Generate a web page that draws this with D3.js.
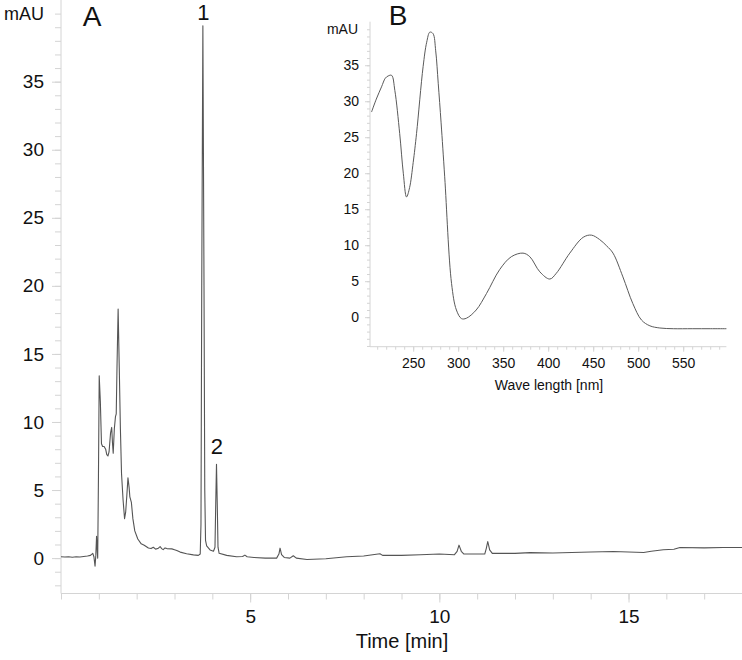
<!DOCTYPE html>
<html>
<head>
<meta charset="utf-8">
<script src="https://cdn.jsdelivr.net/npm/d3@7"></script>
<style>
  html, body { margin: 0; padding: 0; background: #fff; }
  svg { display: block; font-family: "Liberation Sans", Arial, sans-serif; }
  .axis path, .axis line { stroke: #d4d4d4; }
  .axis text { fill: #111; }
</style>
</head>
<body>
<svg id="chart" width="742" height="660"></svg>
<script>
// ---- Panel A: chromatogram (time [min], absorbance [mAU]) ----
const timeMin = [0, 0.1, 0.2, 0.3, 0.4, 0.5, 0.6, 0.7, 0.78, 0.84, 0.87, 0.9, 0.92, 0.94, 0.96, 0.97, 0.99, 1.01, 1.04, 1.07, 1.1, 1.14, 1.18, 1.21, 1.24, 1.27, 1.31, 1.34, 1.36, 1.38, 1.41, 1.44, 1.46, 1.48, 1.51, 1.54, 1.57, 1.60, 1.64, 1.68, 1.71, 1.74, 1.77, 1.80, 1.82, 1.86, 1.90, 1.95, 2.03, 2.12, 2.2, 2.31, 2.38, 2.44, 2.5, 2.56, 2.62, 2.66, 2.70, 2.75, 2.8, 2.93, 3.0, 3.06, 3.15, 3.32, 3.5, 3.63, 3.68, 3.70, 3.72, 3.75, 3.78, 3.80, 3.82, 3.85, 3.94, 4.03, 4.07, 4.09, 4.11, 4.13, 4.15, 4.18, 4.38, 4.64, 4.8, 4.86, 4.92, 5.1, 5.4, 5.7, 5.76, 5.79, 5.83, 5.9, 6.05, 6.14, 6.22, 6.5, 7.0, 7.55, 8.0, 8.43, 8.5, 9.0, 9.5, 10.0, 10.4, 10.47, 10.52, 10.58, 10.65, 11.0, 11.2, 11.24, 11.28, 11.33, 11.4, 12.0, 12.4, 13.0, 14.0, 14.6, 15.0, 15.4, 15.6, 15.92, 16.2, 16.36, 17.0, 17.5, 18.0];
const absorbance = [0.1, 0.08, 0.1, 0.06, 0.1, 0.08, 0.12, 0.15, 0.2, 0.35, 0.1, -0.6, 0.2, 1.6, 0.4, 0.0, 6, 13.4, 11.5, 8.4, 8.2, 8.2, 8.0, 7.6, 7.5, 7.8, 9.2, 9.6, 8.5, 7.7, 9.5, 10.4, 10.6, 14, 18.3, 14, 9.5, 6.2, 4.3, 2.9, 3.4, 4.6, 5.9, 5.2, 4.5, 4.1, 2.9, 2.0, 1.4, 1.05, 0.95, 0.74, 0.7, 0.8, 0.66, 0.7, 0.85, 0.7, 0.62, 0.75, 0.7, 0.68, 0.62, 0.56, 0.44, 0.32, 0.24, 0.2, 0.3, 2.5, 20, 39.1, 20, 5, 1.3, 0.9, 0.6, 0.5, 0.8, 4, 6.9, 4, 0.8, 0.35, 0.2, 0.1, 0.12, 0.22, 0.1, 0.05, 0.0, 0.0, 0.3, 0.73, 0.25, 0.05, 0.0, 0.17, 0.0, -0.1, -0.05, 0.1, 0.15, 0.32, 0.2, 0.2, 0.25, 0.3, 0.25, 0.5, 0.95, 0.5, 0.3, 0.3, 0.3, 0.7, 1.22, 0.6, 0.35, 0.35, 0.4, 0.38, 0.45, 0.49, 0.45, 0.41, 0.5, 0.61, 0.65, 0.78, 0.75, 0.78, 0.78];
const timeTicksMajor = [5, 10, 15];
const mauTicksMajor = [0, 5, 10, 15, 20, 25, 30, 35];
const peakLabels = ["1", "2"];
const peakTimes = [3.75, 4.11];
const peakHeights = [39.1, 6.9];

// ---- Panel B: UV-Vis spectrum (wavelength [nm], absorbance [mAU]) ----
const waveNm = [203.7, 209, 214.8, 219, 222, 226, 229.6, 235, 239, 242.6, 246, 250, 253.7, 261, 265, 268.5, 272, 275, 277.8, 281, 285, 292.6, 298, 303.7, 309, 320, 331.5, 346, 359, 372, 379.6, 390.7, 401.8, 409, 424, 438.9, 448, 457, 465, 472, 483, 494, 503.7, 513, 524, 539, 560, 580, 598];
const spectrumMau = [28.5, 30.3, 32, 33.2, 33.5, 33.6, 31.5, 25.5, 20, 16.7, 18, 21.5, 25.5, 34.8, 38.2, 39.6, 39.4, 37, 32.5, 27, 19.5, 4.7, 1, -0.2, -0.15, 1, 3.3, 6.6, 8.4, 8.9, 8.4, 6.3, 5.3, 6.1, 8.9, 11.1, 11.4, 10.8, 9.9, 8.9, 5.6, 1.9, -0.4, -1.2, -1.5, -1.6, -1.6, -1.6, -1.6];
const waveTicksMajor = [250, 300, 350, 400, 450, 500, 550];
const specTicksMajor = [0, 5, 10, 15, 20, 25, 30, 35];

const svg = d3.select("#chart");

// ================= Panel A =================
const xA = d3.scaleLinear().domain([0, 18]).range([61, 742]);
const yA = d3.scaleLinear().domain([-2.6, 41]).range([593.5, 0]);

svg.append("g").attr("class", "axis").attr("transform", "translate(61,0)")
  .call(d3.axisLeft(yA).tickValues(d3.range(-2, 41, 1)).tickSize(6).tickFormat(""))
  .call(g => g.select(".domain").remove());
svg.append("g").attr("class", "axis").attr("transform", "translate(61,0)")
  .call(d3.axisLeft(yA).tickValues(mauTicksMajor).tickSize(9).tickPadding(8).tickFormat(d3.format("d")))
  .call(g => g.selectAll("text").attr("font-size", 19))
  .call(g => g.select(".domain").attr("d", "M0,0V593.5"));
svg.append("text").attr("x", 44).attr("y", yA(40)).attr("dy", "0.36em")
  .attr("text-anchor", "end").attr("font-size", 18).attr("fill", "#111").text("mAU");

svg.append("g").attr("class", "axis").attr("transform", "translate(0,593.5)")
  .call(d3.axisBottom(xA).tickValues(d3.range(0, 19, 1)).tickSize(6).tickFormat(""))
  .call(g => g.select(".domain").remove());
svg.append("g").attr("class", "axis").attr("transform", "translate(0,593.5)")
  .call(d3.axisBottom(xA).tickValues(timeTicksMajor).tickSize(9).tickPadding(7).tickFormat(d3.format("d")))
  .call(g => g.selectAll("text").attr("font-size", 19))
  .call(g => g.select(".domain").attr("d", "M61,0H742"));
svg.append("text").attr("x", 402).attr("y", 648).attr("text-anchor", "middle")
  .attr("font-size", 20).attr("fill", "#111").text("Time [min]");

const chromData = timeMin.map((t, i) => [t, absorbance[i]]);
svg.append("path").datum(chromData)
  .attr("fill", "none").attr("stroke", "#555").attr("stroke-width", 1.1)
  .attr("stroke-linejoin", "round")
  .attr("d", d3.line().x(d => xA(d[0])).y(d => yA(d[1])));

svg.append("text").attr("x", 92).attr("y", 26).attr("text-anchor", "middle")
  .attr("font-size", 28).attr("fill", "#111").text("A");
svg.selectAll(".peaklbl").data(peakLabels).enter().append("text")
  .attr("class", "peaklbl")
  .attr("x", (d, i) => xA(peakTimes[i]) + 0.5)
  .attr("y", (d, i) => i === 0 ? 20 : yA(peakHeights[i]) - 10)
  .attr("text-anchor", "middle").attr("font-size", 22).attr("fill", "#111").text(d => d);

// ================= Panel B (inset) =================
const xB = d3.scaleLinear().domain([202, 598]).range([370, 726.4]);
const yB = d3.scaleLinear().domain([-4.1, 41.05]).range([346.7, 21.7]);

svg.append("g").attr("class", "axis").attr("transform", "translate(370,0)")
  .call(d3.axisLeft(yB).tickValues(d3.range(-4, 41, 1)).tickSize(3).tickFormat(""))
  .call(g => g.select(".domain").remove());
svg.append("g").attr("class", "axis").attr("transform", "translate(370,0)")
  .call(d3.axisLeft(yB).tickValues(specTicksMajor).tickSize(5).tickPadding(6).tickFormat(d3.format("d")))
  .call(g => g.selectAll("text").attr("font-size", 14))
  .call(g => g.select(".domain").attr("d", "M0,21.7V346.7"));
svg.append("text").attr("x", 358).attr("y", yB(40)).attr("dy", "0.36em")
  .attr("text-anchor", "end").attr("font-size", 14).attr("fill", "#111").text("mAU");

svg.append("g").attr("class", "axis").attr("transform", "translate(0,346.7)")
  .call(d3.axisBottom(xB).tickValues(d3.range(210, 600, 10)).tickSize(3).tickFormat(""))
  .call(g => g.select(".domain").remove());
svg.append("g").attr("class", "axis").attr("transform", "translate(0,346.7)")
  .call(d3.axisBottom(xB).tickValues(waveTicksMajor).tickSize(5).tickPadding(6).tickFormat(d3.format("d")))
  .call(g => g.selectAll("text").attr("font-size", 14))
  .call(g => g.select(".domain").attr("d", "M370,0H726.4"));
svg.append("text").attr("x", 549).attr("y", 390).attr("text-anchor", "middle")
  .attr("font-size", 14).attr("fill", "#111").text("Wave length [nm]");

const specData = waveNm.map((w, i) => [w, spectrumMau[i]]);
svg.append("path").datum(specData)
  .attr("fill", "none").attr("stroke", "#5a5a5a").attr("stroke-width", 1)
  .attr("d", d3.line().curve(d3.curveCatmullRom.alpha(0.5)).x(d => xB(d[0])).y(d => yB(d[1])));

svg.append("text").attr("x", 398).attr("y", 25).attr("text-anchor", "middle")
  .attr("font-size", 28).attr("fill", "#111").text("B");
</script>
</body>
</html>
